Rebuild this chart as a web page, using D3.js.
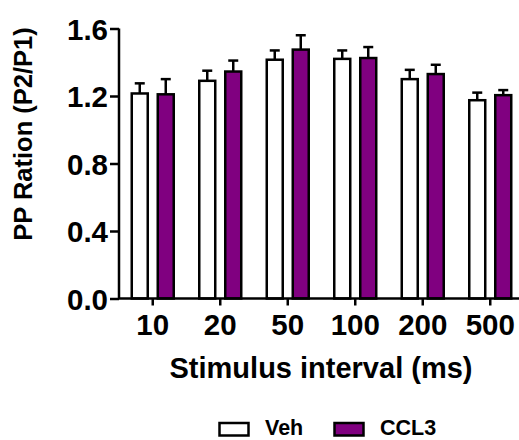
<!DOCTYPE html>
<html>
<head>
<meta charset="utf-8">
<script src="https://cdn.jsdelivr.net/npm/d3@7"></script>
<style>
  html, body { margin: 0; padding: 0; background: #fff; }
  svg { display: block; }
  text { font-family: "Liberation Sans", Arial, sans-serif; font-weight: bold; fill: #000; }
</style>
</head>
<body>
<svg id="chart" width="519" height="440"></svg>
<script>
// ---- data ----
const categories = ["10", "20", "50", "100", "200", "500"];
const seriesNames = ["Veh", "CCL3"];
const vehValues = [1.215, 1.29, 1.415, 1.42, 1.30, 1.175];
const vehErrors = [0.06, 0.06, 0.055, 0.05, 0.055, 0.045];
const ccl3Values = [1.21, 1.345, 1.475, 1.425, 1.33, 1.205];
const ccl3Errors = [0.09, 0.065, 0.085, 0.065, 0.055, 0.03];
const yTicks = [0.0, 0.4, 0.8, 1.2, 1.6];
const yLabel = "PP Ration (P2/P1)";
const xLabel = "Stimulus interval (ms)";

const fills = { "Veh": "#ffffff", "CCL3": "#800080" };

const svg = d3.select("#chart");

const x0 = 119, x1 = 524, yBottom = 298.5, yTop = 28.5;

const x = d3.scaleBand().domain(categories).range([x0, x1]).padding(0);
const bw = x.bandwidth();
const xSub = d3.scaleBand().domain(seriesNames)
  .range([bw / 2 - 26, bw / 2 + 26]).paddingInner(0.385).paddingOuter(0.1925);
const y = d3.scaleLinear().domain([0, 1.6]).range([yBottom, yTop]);

const data = [];
categories.forEach((c, i) => {
  data.push({ cat: c, s: "Veh", v: vehValues[i], e: vehErrors[i] });
  data.push({ cat: c, s: "CCL3", v: ccl3Values[i], e: ccl3Errors[i] });
});

// error bars (upward only)
const eg = svg.append("g").attr("stroke", "#000").attr("stroke-width", 2.5).attr("fill", "none");
data.forEach(d => {
  const cx = x(d.cat) + xSub(d.s) + xSub.bandwidth() / 2;
  eg.append("line").attr("x1", cx).attr("x2", cx).attr("y1", y(d.v)).attr("y2", y(d.v + d.e));
  eg.append("line").attr("x1", cx - 5).attr("x2", cx + 5).attr("y1", y(d.v + d.e)).attr("y2", y(d.v + d.e));
});

// bars
svg.append("g").selectAll("rect").data(data).join("rect")
  .attr("x", d => x(d.cat) + xSub(d.s))
  .attr("width", xSub.bandwidth())
  .attr("y", d => y(d.v))
  .attr("height", d => y(0) - y(d.v))
  .attr("fill", d => fills[d.s])
  .attr("stroke", "#000")
  .attr("stroke-width", 2.5);

// y axis
const yAxis = svg.append("g").attr("transform", `translate(${x0},0)`)
  .call(d3.axisLeft(y).tickValues(yTicks).tickFormat(d3.format(".1f")).tickSize(9).tickPadding(2));
yAxis.select(".domain").attr("stroke-width", 2.5).attr("d", `M0,${yTop}V${yBottom}`);
yAxis.selectAll(".tick line").attr("stroke-width", 2.5);
yAxis.selectAll(".tick text").style("font-size", "29.5px").attr("dy", "0.36em");

// x axis
const xAxis = svg.append("g").attr("transform", `translate(0,${yBottom})`)
  .call(d3.axisBottom(x).tickSize(7).tickPadding(6));
xAxis.select(".domain").attr("stroke-width", 2.5).attr("d", `M${x0},0H${x1}`);
xAxis.selectAll(".tick line").attr("stroke-width", 2.5);
xAxis.selectAll(".tick text").style("font-size", "29.5px").attr("dy", "0.8em");

// axis titles
svg.append("text").attr("x", 321).attr("y", 378).attr("text-anchor", "middle")
  .style("font-size", "29px").text(xLabel);
svg.append("text").attr("transform", "translate(32,134) rotate(-90)").attr("text-anchor", "middle")
  .style("font-size", "25.5px").text(yLabel);

// legend
const legendItems = [
  { s: "Veh", bx: 219.5, tx: 265 },
  { s: "CCL3", bx: 334.5, tx: 380 }
];
const lg = svg.append("g");
legendItems.forEach(it => {
  lg.append("rect").attr("x", it.bx).attr("y", 423).attr("width", 29).attr("height", 12.5)
    .attr("fill", fills[it.s]).attr("stroke", "#000").attr("stroke-width", 2.5);
  lg.append("text").attr("x", it.tx).attr("y", 435).style("font-size", "21.5px").text(it.s);
});
</script>
</body>
</html>
